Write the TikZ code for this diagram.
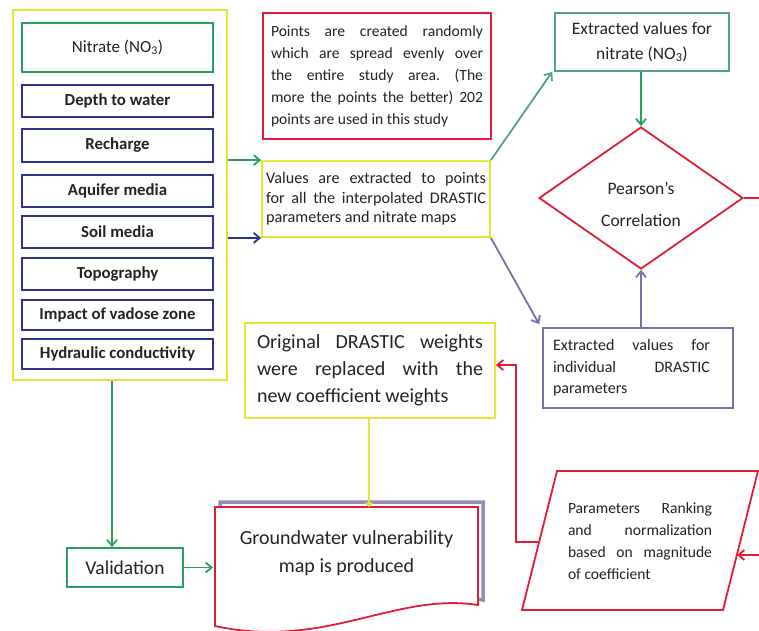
\documentclass[tikz,border=0pt]{standalone}
\usepackage{fontspec}
\setmainfont{Carlito}
\usetikzlibrary{arrows.meta,shapes.geometric,calc}
\frenchspacing
\definecolor{yel}{RGB}{224,232,52}
\definecolor{grn}{RGB}{40,160,95}
\definecolor{teal2}{RGB}{85,160,140}
\definecolor{navy}{RGB}{45,50,140}
\definecolor{red2}{RGB}{222,30,55}
\definecolor{slate}{RGB}{115,115,165}
\definecolor{txt}{RGB}{35,35,35}
\begin{document}
\begin{tikzpicture}[x=1pt,y=-1pt,
  every node/.style={text=txt, inner sep=0pt},
  lbox/.style={draw=navy, line width=1.8pt, minimum width=191pt, font=\bfseries\fontsize{16.8}{18}\selectfont},
  arr/.style={line width=1.8pt, -{Straight Barb[length=6pt,width=10pt]}},
  jtext/.style={align=justify},
]
\useasboundingbox (0,0) rectangle (759,630);
\clip (0,0) rectangle (759,630);
\fill[white] (0,0) rectangle (759,630);

% left column
\node[draw=yel, line width=2.2pt, minimum width=214pt, minimum height=370pt] (outer) at (120,195) {};
\node[draw=grn, line width=1.8pt, minimum width=191pt, minimum height=49pt, font=\fontsize{17}{18}\selectfont] (no3) at (117.5,47.5) {Nitrate (NO\textsubscript{3})};
\node[lbox, minimum height=32pt] (dw) at (117.5,101) {Depth to water};
\node[lbox, minimum height=33pt] (rc) at (117.5,145.5) {Recharge};
\node[lbox, minimum height=32pt] (aq) at (117.5,191) {Aquifer media};
\node[lbox, minimum height=32pt] (sm) at (117.5,232) {Soil media};
\node[lbox, minimum height=32pt] (tp) at (117.5,274) {Topography};
\node[lbox, minimum height=30pt] (iv) at (117.5,315) {Impact of vadose zone};
\node[lbox, minimum height=30pt] (hc) at (117.5,354) {Hydraulic conductivity};

% middle top
\node[draw=red2, line width=1.8pt, minimum width=228pt, minimum height=126pt, text width=212pt, jtext,
      font=\fontsize{15.6}{22}\selectfont] (pts) at (377,76)
 {Points are created randomly\linebreak which are spread evenly over\linebreak the entire study area. (The\linebreak more the points the better) 202\linebreak points are used in this study};
\node[draw=yel, line width=1.8pt, minimum width=228pt, minimum height=76pt, text width=220pt, jtext,
      font=\fontsize{16.2}{19.5}\selectfont] (val) at (376,199)
 {Values are extracted to points\linebreak for all the interpolated DRASTIC\linebreak parameters and nitrate maps};

% right
\node[draw=teal2, line width=1.8pt, minimum width=174pt, minimum height=58pt, align=center,
      font=\fontsize{17.5}{25}\selectfont] (en) at (642,42)
 {Extracted values for\\nitrate (NO\textsubscript{3})};
\node[diamond, draw=red2, line width=1.8pt, minimum width=204pt, minimum height=142pt] (pc) at (641,198) {};
\node[align=center, font=\fontsize{17.5}{32}\selectfont] (pct) at (641,204) {Pearson’s\\Correlation};
\node[draw=slate, line width=1.8pt, minimum width=190pt, minimum height=80pt] (ed) at (638,368) {};
\node[text width=157pt, jtext, font=\fontsize{16}{21.5}\selectfont] (edt) at (631.5,368)
 {Extracted values for\linebreak individual DRASTIC\linebreak parameters};

% original weights
\node[draw=yel, line width=1.8pt, minimum width=250pt, minimum height=95pt, text width=226pt, jtext,
      font=\fontsize{20}{27}\selectfont] (ow) at (370,370.5)
 {Original DRASTIC weights\linebreak were replaced with the\linebreak new coefficient weights};

% parallelogram
\coordinate (ptl) at (557,471);
\coordinate (ptr) at (758,471);
\coordinate (pbr) at (723,610);
\coordinate (pbl) at (522,610);
\draw[red2, line width=1.8pt] (ptl) -- (ptr) -- (pbr) -- (pbl) -- cycle;
\node[text width=144pt, jtext, font=\fontsize{15.6}{22}\selectfont] (pr) at (640,541)
 {Parameters Ranking\linebreak and normalization\linebreak based on magnitude\linebreak of coefficient};
\coordinate (prl) at (539,542);
\coordinate (prr) at (737,555);

% document shape
\draw[slate!80, line width=3.5pt, shift={(5,-5)}] (215,507) -- (478,507) -- (478,605)
  .. controls (395,592) and (325,650) .. (215,626) -- cycle;
\filldraw[fill=white, draw=red2, line width=1.8pt] (215,507) -- (478,507) -- (478,605)
  .. controls (395,592) and (325,650) .. (215,626) -- cycle;
\node[minimum width=263pt, minimum height=98pt, align=center, font=\fontsize{20}{28}\selectfont] (doc) at (346.5,553)
 {Groundwater vulnerability\\map is produced};
\coordinate (doctop) at (369,507);

% validation
\node[draw=grn, line width=1.8pt, minimum width=116pt, minimum height=39pt, font=\fontsize{19.5}{22}\selectfont] (vd) at (125,567.5) {Validation};

% connectors
\draw[arr, grn] (outer.east |- val.north west) -- (val.north west);
\draw[arr, navy] (outer.east |- val.south west) -- (val.south west);
\draw[arr, teal2] (val.north east) -- ([xshift=-2pt]en.south west);
\draw[arr, slate] (val.south east) -- ([shift={(-3pt,3pt)}]ed.north west);
\draw[arr, grn] (pc.north |- en.south) -- (pc.north);
\draw[arr, slate] (pc.south |- ed.north) -- (pc.south);
\draw[arr, red2] (pc.east) -- (790,198) |- (prr);
\draw[arr, red2] (prl) -- (516,542) |- ([yshift=5.5pt]ow.east);
\draw[line width=1.8pt, yel, -{Straight Barb[length=3pt,width=6pt]}] (doctop |- ow.south) -- (doctop);
\draw[arr, grn] ([xshift=-13pt]vd.north |- outer.south) -- ([xshift=-13pt]vd.north);
\draw[arr, grn] (vd.east) -- (vd.east -| 213,0);
\end{tikzpicture}
\end{document}
